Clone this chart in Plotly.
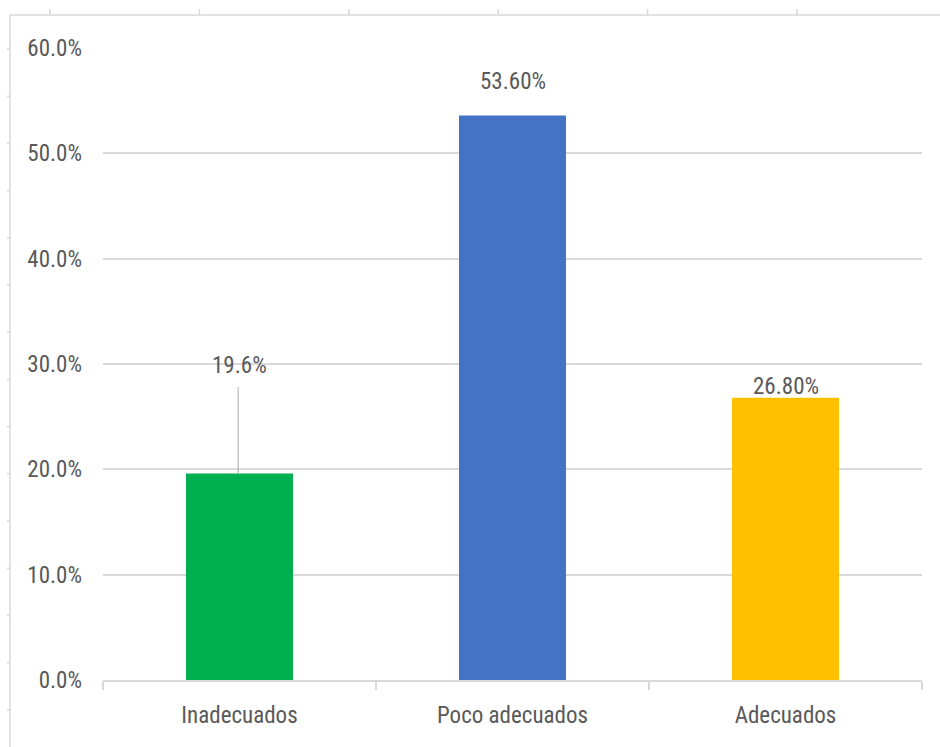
import plotly.graph_objects as go

categories = ["Inadecuados", "Poco adecuados", "Adecuados"]
values = [19.6, 53.6, 26.8]
label_texts = ["19.6%", "53.60%", "26.80%"]
bar_colors = ["#00B050", "#4472C4", "#FFC000"]
y_tick_vals = [0, 10, 20, 30, 40, 50, 60]
y_tick_text = ["0.0%", "10.0%", "20.0%", "30.0%", "40.0%", "50.0%", "60.0%"]

W, H = 940, 747
L, R, T, B = 103, 18, 48, 67
FONT = "Roboto Condensed, Liberation Sans, sans-serif"
TXT = "#595959"
GRID = "#D9D9D9"

def px_x(p):
    return (p - L) / (W - L - R)

def px_y(p):
    return (H - B - p) / (H - T - B)

fig = go.Figure(go.Bar(
    x=categories, y=values, marker_color=bar_colors,
    marker_line_width=0, width=0.392, hoverinfo="skip"))

# data labels
shifts = [108, 34, 11]
for c, v, t, s in zip(categories, values, label_texts, shifts):
    fig.add_annotation(x=c, y=v, text=t, showarrow=False, yshift=s,
                       yanchor="middle", xanchor="center",
                       font=dict(family=FONT, size=23, color=TXT))

# leader line for first label
fig.add_shape(type="line", xref="x", yref="y", x0=-0.005, x1=-0.005,
              y0=values[0], y1=values[0] + 8.2,
              line=dict(color="#A6A6A6", width=1))

# surrounding frame remnants (decoration)
fig.add_shape(type="line", xref="paper", yref="paper", x0=px_x(10), x1=px_x(940),
              y0=px_y(15), y1=px_y(15), line=dict(color=GRID, width=1.5))
fig.add_shape(type="line", xref="paper", yref="paper", x0=px_x(10), x1=px_x(10),
              y0=px_y(15), y1=px_y(747), line=dict(color=GRID, width=1.5))
for i in range(6):
    xp = 50 + i * 149.4
    fig.add_shape(type="line", xref="paper", yref="paper", x0=px_x(xp), x1=px_x(xp),
                  y0=px_y(9), y1=px_y(15), line=dict(color=GRID, width=1.5))
for i in range(15):
    yp = 49 + i * 47.2
    fig.add_shape(type="line", xref="paper", yref="paper", x0=px_x(7), x1=px_x(10),
                  y0=px_y(yp), y1=px_y(yp), line=dict(color=GRID, width=1.5))

fig.update_layout(
    width=W, height=H,
    margin=dict(l=L, r=R, t=T, b=B, pad=0),
    paper_bgcolor="white", plot_bgcolor="white",
    showlegend=False,
    bargap=0.608,
    font=dict(family=FONT, size=23, color=TXT),
    xaxis=dict(
        showgrid=False, showline=True, linecolor=GRID, linewidth=1.5,
        ticks="outside", tickson="boundaries", ticklen=8, tickcolor=GRID, tickwidth=1.5,
        tickfont=dict(family=FONT, size=23, color=TXT),
        ticklabelstandoff=14,
    ),
    yaxis=dict(
        range=[0, 60], tickvals=y_tick_vals, ticktext=y_tick_text,
        showgrid=True, gridcolor=GRID, gridwidth=1.5,
        zeroline=False, showline=False, ticks="",
        tickfont=dict(family=FONT, size=23, color=TXT),
        ticklabelstandoff=20,
    ),
)

fig.write_html("out.html", config={"displayModeBar": False},
               post_script="document.body.style.margin='0';document.body.style.overflow='hidden';")
